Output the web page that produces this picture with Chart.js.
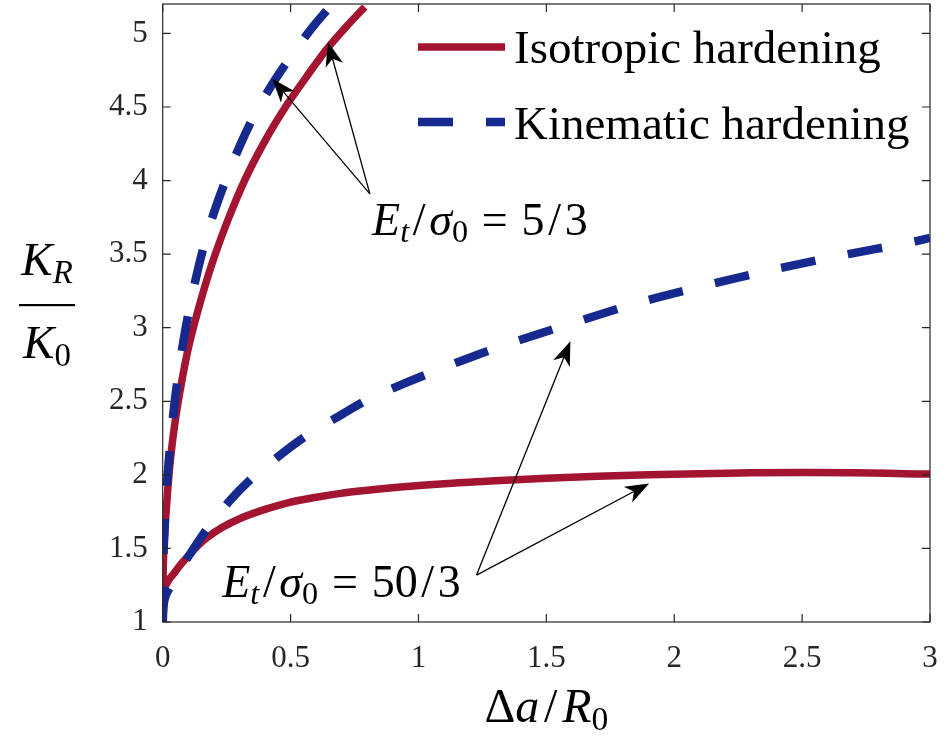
<!DOCTYPE html>
<html>
<head>
<meta charset="utf-8">
<script src="https://cdn.jsdelivr.net/npm/chart.js@4.4.0/dist/chart.umd.min.js"></script>
<style>
  html, body { margin: 0; padding: 0; background: #fff; }
  #wrap { width: 944px; height: 742px; }
</style>
</head>
<body>
<div id="wrap"><canvas id="chart" width="944" height="742"></canvas></div>
<script>
// Data: K_R/K_0 versus Δa/R_0
const isoX5  = [0, 0.002, 0.005, 0.01, 0.018, 0.03, 0.05, 0.075, 0.1, 0.14, 0.19, 0.25, 0.32, 0.4, 0.48, 0.56, 0.64, 0.72, 0.79];
const isoY5  = [1, 1.35, 1.5, 1.66, 1.86, 2.1, 2.38, 2.64, 2.86, 3.13, 3.42, 3.71, 4.0, 4.27, 4.5, 4.7, 4.89, 5.05, 5.18];

const kinX5  = [0, 0.002, 0.005, 0.01, 0.018, 0.03, 0.045, 0.065, 0.09, 0.12, 0.16, 0.2, 0.25, 0.3, 0.36, 0.43, 0.5, 0.58, 0.663];
const kinY5  = [1, 1.38, 1.55, 1.75, 1.97, 2.22, 2.47, 2.73, 3.0, 3.26, 3.55, 3.78, 4.02, 4.23, 4.45, 4.66, 4.84, 5.03, 5.2];

const isoX50 = [0, 0.002, 0.01, 0.025, 0.044, 0.07, 0.1, 0.135, 0.175, 0.23, 0.305, 0.4, 0.5, 0.6, 0.695, 0.8, 0.93, 1.1, 1.3, 1.5, 1.7, 1.9, 2.1, 2.3, 2.5, 2.7, 2.9, 3.0];
const isoY50 = [1, 1.2, 1.245, 1.29, 1.33, 1.39, 1.45, 1.515, 1.575, 1.64, 1.705, 1.765, 1.815, 1.848, 1.874, 1.895, 1.917, 1.94, 1.96, 1.977, 1.99, 2.0, 2.008, 2.014, 2.016, 2.014, 2.008, 2.005];

const kinX50 = [0, 0.003, 0.01, 0.02, 0.03, 0.05, 0.08, 0.11, 0.16, 0.2, 0.265, 0.344, 0.4, 0.47, 0.565, 0.7, 0.8, 0.943, 1.1, 1.3, 1.6, 1.86, 2.13, 2.4, 2.68, 2.95, 3.0];
const kinY50 = [1, 1.1, 1.17, 1.21, 1.24, 1.3, 1.39, 1.47, 1.6, 1.69, 1.83, 1.97, 2.05, 2.15, 2.27, 2.41, 2.51, 2.62, 2.73, 2.86, 3.03, 3.17, 3.29, 3.40, 3.50, 3.59, 3.61];

const xTicks = [0, 0.5, 1, 1.5, 2, 2.5, 3];
const xTickLabels = ['0', '0.5', '1', '1.5', '2', '2.5', '3'];
const yTicks = [1, 1.5, 2, 2.5, 3, 3.5, 4, 4.5, 5];
const yTickLabels = ['1', '1.5', '2', '2.5', '3', '3.5', '4', '4.5', '5'];

const legendLabels = ['Isotropic hardening', 'Kinematic hardening'];

// annotation arrows (data units): tail, then tips
const arrowTail5  = [0.81, 3.91];
const arrowTips5  = [[0.4285, 4.692], [0.646, 4.941]];
const arrowTail50 = [1.227, 1.319];
const arrowTips50 = [[1.594, 2.908], [1.902, 1.942]];
// annotation text: centre x, baseline y (data units)
const labelPos5  = [1.24, 3.63];
const labelPos50 = [0.699, 1.172];

const RED = '#A2142F';
const BLUE = '#15298F';
const AXIS = '#262626';
const FONT = '"Liberation Serif", "Times New Roman", serif';
const DASH = [35, 33];

function zip(xs, ys) {
    return xs.map((x, i) => ({ x: x, y: ys[i] }));
}

function lineSet(label, xs, ys, color, dashed, order) {
    return {
        label: label,
        data: zip(xs, ys),
        borderColor: color,
        backgroundColor: color,
        borderWidth: dashed ? 8.5 : 7.5,
        borderDash: dashed ? DASH : [],
        borderCapStyle: 'butt',
        pointRadius: 0,
        fill: false,
        cubicInterpolationMode: 'monotone',
        order: order
    };
}

// draw a run of text pieces (italic / subscript), returns width
function mathRuns(ctx, runs, x, y, size, measureOnly) {
    let cx = x;
    runs.forEach(r => {
        const fs = r.sub ? size * 0.7 : size;
        ctx.font = (r.it ? 'italic ' : '') + fs + 'px ' + FONT;
        cx += (r.padL || 0) * size;
        if (!measureOnly) ctx.fillText(r.t, cx, y + (r.sub ? size * 0.16 : 0));
        cx += ctx.measureText(r.t).width + (r.padR || 0) * size;
    });
    return cx - x;
}

function mathCentered(ctx, runs, cx, y, size) {
    const w = mathRuns(ctx, runs, 0, 0, size, true);
    mathRuns(ctx, runs, cx - w / 2, y, size, false);
}

function arrow(ctx, x0, y0, x1, y1) {
    const ang = Math.atan2(y1 - y0, x1 - x0);
    const L = 24, W = 9, notch = 0.72;
    const ux = Math.cos(ang), uy = Math.sin(ang);
    const bx = x1 - ux * L, by = y1 - uy * L;
    const nx = x1 - ux * L * notch, ny = y1 - uy * L * notch;
    ctx.beginPath();
    ctx.moveTo(x0, y0);
    ctx.lineTo(nx, ny);
    ctx.lineWidth = 1.3;
    ctx.strokeStyle = '#000';
    ctx.stroke();
    ctx.beginPath();
    ctx.moveTo(x1, y1);
    ctx.lineTo(bx - uy * W, by + ux * W);
    ctx.lineTo(nx, ny);
    ctx.lineTo(bx + uy * W, by - ux * W);
    ctx.closePath();
    ctx.fillStyle = '#000';
    ctx.fill();
}

const decorPlugin = {
    id: 'decor',
    afterDatasetsDraw(chart) {
        const ctx = chart.ctx;
        const a = chart.chartArea;
        const xs = chart.scales.x, ys = chart.scales.y;
        ctx.save();

        // axes box and inward ticks on all sides
        ctx.strokeStyle = AXIS;
        ctx.lineWidth = 1.2;
        ctx.strokeRect(a.left, a.top, a.right - a.left, a.bottom - a.top);
        const tl = 8;
        ctx.beginPath();
        xTicks.forEach(v => {
            const px = xs.getPixelForValue(v);
            ctx.moveTo(px, a.bottom); ctx.lineTo(px, a.bottom - tl);
            ctx.moveTo(px, a.top); ctx.lineTo(px, a.top + tl);
        });
        yTicks.forEach(v => {
            const py = ys.getPixelForValue(v);
            ctx.moveTo(a.left, py); ctx.lineTo(a.left + tl, py);
            ctx.moveTo(a.right, py); ctx.lineTo(a.right - tl, py);
        });
        ctx.stroke();

        // annotation arrows
        [[arrowTail5, arrowTips5], [arrowTail50, arrowTips50]].forEach(([tail, tips]) => {
            const tx = xs.getPixelForValue(tail[0]), ty = ys.getPixelForValue(tail[1]);
            tips.forEach(t => arrow(ctx, tx, ty, xs.getPixelForValue(t[0]), ys.getPixelForValue(t[1])));
        });

        // annotation labels
        ctx.fillStyle = '#000';
        ctx.textBaseline = 'alphabetic';
        ctx.textAlign = 'left';
        const etPart = [
            { t: 'E', it: true },
            { t: 't', it: true, sub: true },
            { t: '/', padL: 0.08, padR: 0.08 },
            { t: 'σ', it: true },
            { t: '0', sub: true },
            { t: '=', padL: 0.3, padR: 0.3 }
        ];
        mathCentered(ctx, etPart.concat([{ t: '5' }, { t: '/', padL: 0.08, padR: 0.08 }, { t: '3' }]),
            xs.getPixelForValue(labelPos5[0]), ys.getPixelForValue(labelPos5[1]), 46);
        mathCentered(ctx, etPart.concat([{ t: '50' }, { t: '/', padL: 0.08, padR: 0.08 }, { t: '3' }]),
            xs.getPixelForValue(labelPos50[0]), ys.getPixelForValue(labelPos50[1]), 46);

        // legend
        ctx.lineWidth = 7.5;
        ctx.strokeStyle = RED;
        ctx.beginPath(); ctx.moveTo(418, 47); ctx.lineTo(505, 47); ctx.stroke();
        ctx.lineWidth = 8.5;
        ctx.strokeStyle = BLUE;
        ctx.setLineDash(DASH);
        ctx.beginPath(); ctx.moveTo(418, 122); ctx.lineTo(505, 122); ctx.stroke();
        ctx.setLineDash([]);
        ctx.font = '47px ' + FONT;
        ctx.fillText(legendLabels[0], 514, 63);
        ctx.fillText(legendLabels[1], 514, 139);

        // axis titles
        mathCentered(ctx, [{ t: 'Δ' }, { t: 'a', it: true }, { t: '/', padL: 0.1, padR: 0.1 }, { t: 'R', it: true }, { t: '0', sub: true }],
            (a.left + a.right) / 2, 722, 48);
        mathCentered(ctx, [{ t: 'K', it: true }, { t: 'R', it: true, sub: true }], 47, 275, 47);
        mathCentered(ctx, [{ t: 'K', it: true }, { t: '0', sub: true }], 47, 358, 47);
        ctx.fillRect(19, 304, 56, 2.2);

        ctx.restore();
    }
};

const ctx = document.getElementById('chart').getContext('2d');
new Chart(ctx, {
    type: 'line',
    data: {
        datasets: [
            lineSet('Isotropic hardening 5/3', isoX5, isoY5, RED, false, 2),
            lineSet('Isotropic hardening 50/3', isoX50, isoY50, RED, false, 2),
            lineSet('Kinematic hardening 5/3', kinX5, kinY5, BLUE, true, 1),
            lineSet('Kinematic hardening 50/3', kinX50, kinY50, BLUE, true, 1)
        ]
    },
    options: {
        responsive: false,
        animation: false,
        devicePixelRatio: 1,
        layout: { padding: { left: 0, right: 14, top: 4, bottom: 0 } },
        plugins: {
            legend: { display: false },
            tooltip: { enabled: false }
        },
        scales: {
            x: {
                type: 'linear',
                min: 0,
                max: 3,
                grid: { display: false, drawTicks: false },
                border: { display: false },
                afterBuildTicks: s => { s.ticks = xTicks.map(v => ({ value: v })); },
                afterFit: s => { s.height = 120; s.paddingLeft = 0; s.paddingRight = 0; },
                ticks: {
                    padding: 18,
                    color: AXIS,
                    font: { family: FONT, size: 31 },
                    maxRotation: 0,
                    callback: (v, i) => xTickLabels[i]
                }
            },
            y: {
                type: 'linear',
                min: 1,
                max: 5.2,
                grid: { display: false, drawTicks: false },
                border: { display: false },
                afterBuildTicks: s => { s.ticks = yTicks.map(v => ({ value: v })); },
                afterFit: s => { s.width = 162.7; s.paddingTop = 0; s.paddingBottom = 0; },
                ticks: {
                    padding: 15,
                    color: AXIS,
                    font: { family: FONT, size: 31 },
                    callback: (v, i) => yTickLabels[i]
                }
            }
        }
    },
    plugins: [decorPlugin]
});
</script>
</body>
</html>
